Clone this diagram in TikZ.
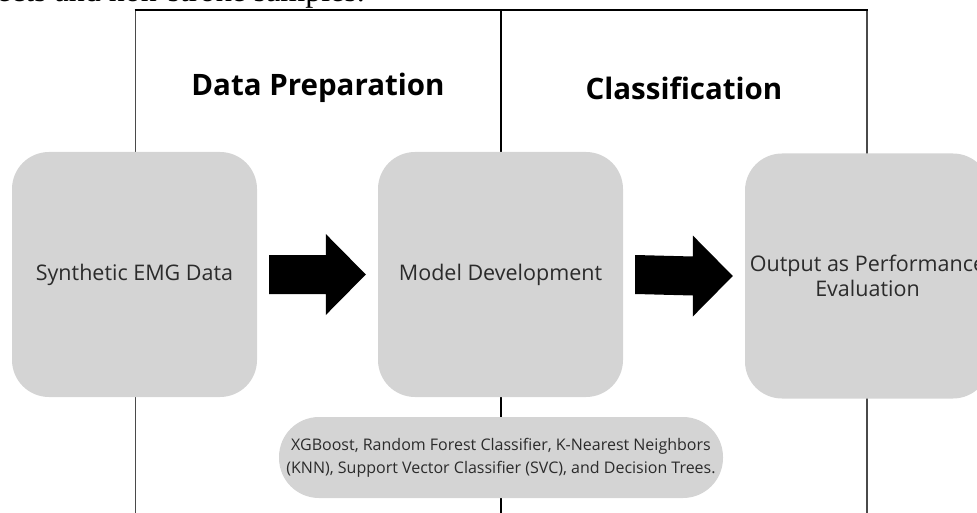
\documentclass[tikz,border=0pt]{standalone}
\usepackage{fontspec}
\setmainfont{Open Sans}
\newfontfamily\pagefont{Liberation Serif}
\usetikzlibrary{calc}

\definecolor{boxgray}{HTML}{D4D4D4}
\definecolor{textgray}{HTML}{2B2B2B}
\definecolor{framegray}{HTML}{4A4A4A}

% block arrow from the right side of #1 to the left side of #2
\newcommand{\flowarrow}[2]{%
    \fill ($(#1.east)+(12,-19.5)$) -- ($(#2.west)+(-52,-19.5)$)
        -- ($(#2.west)+(-52,-40.5)$) -- ($(#2.west)+(-12,0)$)
        -- ($(#2.west)+(-52,40.5)$) -- ($(#2.west)+(-52,19.5)$)
        -- ($(#1.east)+(12,19.5)$) -- cycle;}

\begin{document}
\begin{tikzpicture}[x=1pt, y=-1pt,
    stage/.style={fill=boxgray, rounded corners=37pt, minimum width=245pt,
        minimum height=245pt, align=center, text=textgray,
        font=\fontsize{21.5}{25}\selectfont},
    pill/.style={fill=boxgray, rounded corners=40pt, minimum width=444pt,
        minimum height=81pt, align=center, text=textgray,
        font=\fontsize{16}{23}\selectfont},
    heading/.style={font=\fontsize{29.5}{34}\selectfont\bfseries}]
    \useasboundingbox (0,0) rectangle (977,513);
    \clip (0,0) rectangle (977,513);

    % end of the text line above the figure
    \node[anchor=base east, inner sep=0pt, font=\pagefont\fontsize{32}{36}\selectfont]
        (caption) at (365,2) {subjects and non-stroke samples.};

    % frame with the two columns
    \draw[framegray, line width=1pt] (135,10) -- (135,513);
    \draw[framegray, line width=1.3pt] (867,10) -- (867,513);
    \draw[line width=2pt] (501,10) -- (501,513);
    \draw[line width=1.5pt] (134.5,10) -- (867.5,10);

    \node[heading] (prep) at (318,88) {Data Preparation};
    \node[heading] (cls) at (684,88) {Classification};

    % stages
    \node[stage] (synth) at (134.5,274.5) {Synthetic EMG Data};
    \node[stage] (model) at (500.5,274.5) {Model Development};
    \node[stage] (output) at (867.5,276) {Output as Performance\\Evaluation};

    \flowarrow{synth}{model}
    \flowarrow{model}{output}

    % classifiers used for the model
    \node[pill] (algos) at (501,457.5) {XGBoost, Random Forest Classifier, K-Nearest Neighbors\\
        (KNN), Support Vector Classifier (SVC), and Decision Trees.};
\end{tikzpicture}
\end{document}
